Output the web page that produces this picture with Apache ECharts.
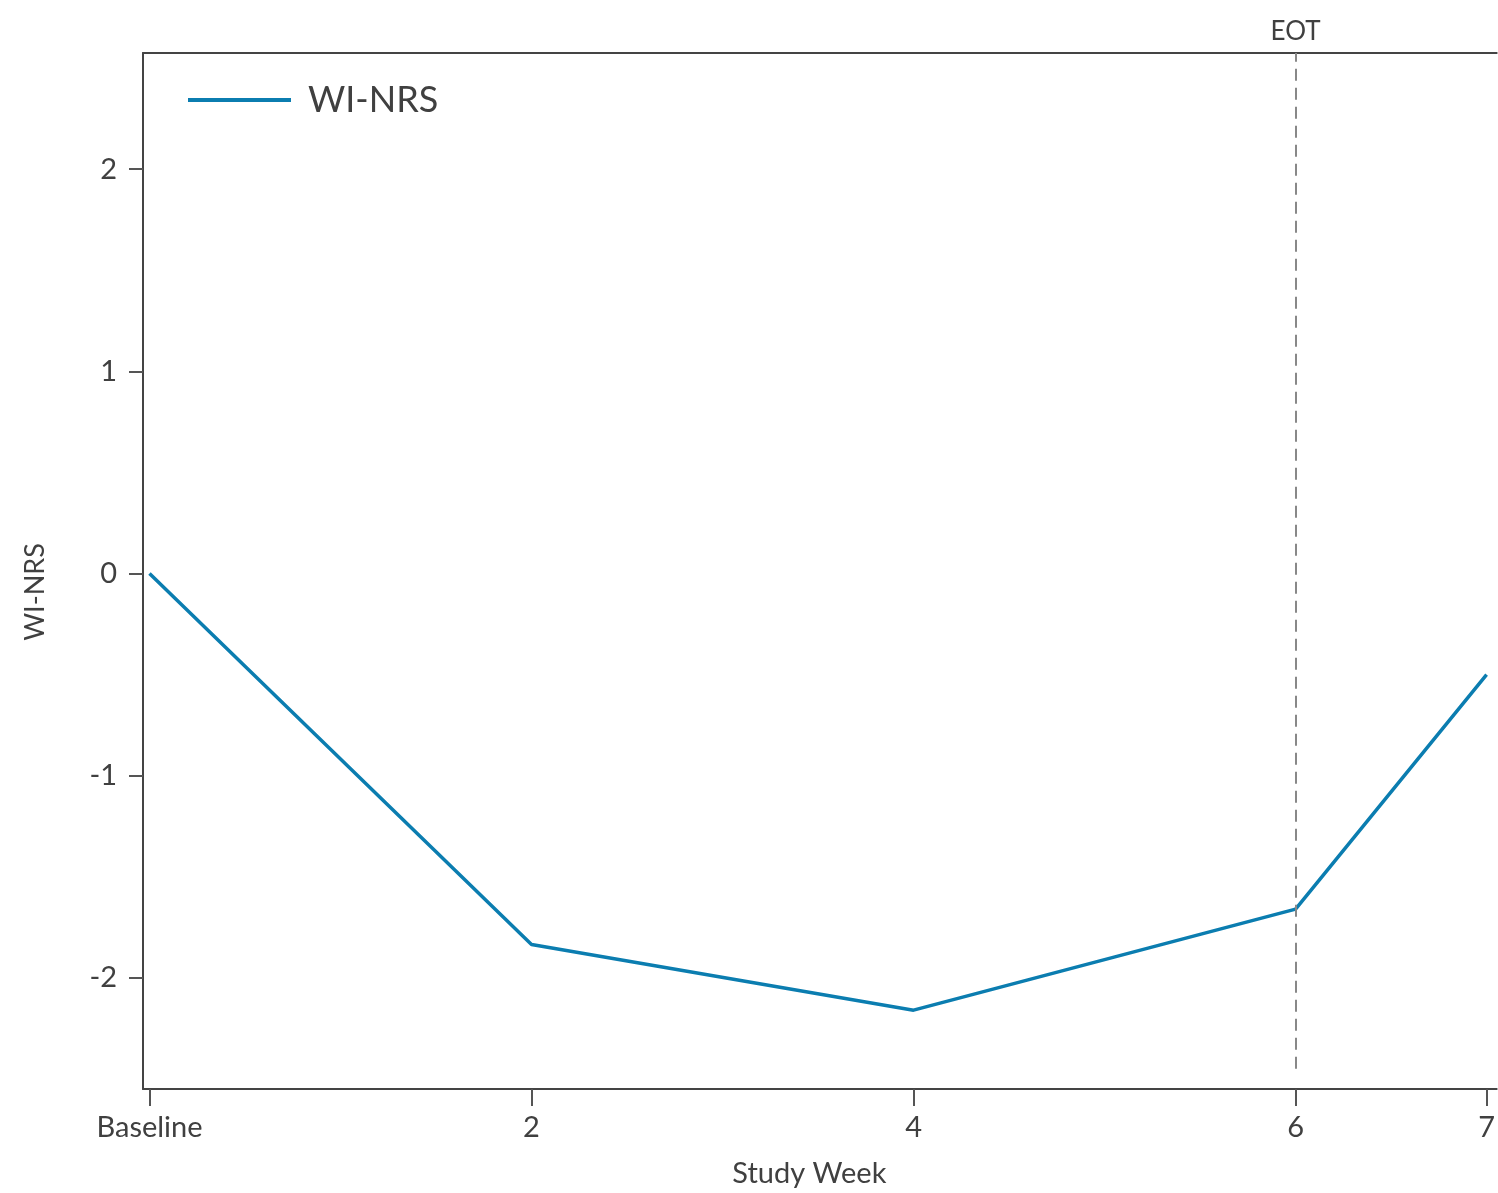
<!DOCTYPE html>
<html>
<head>
<meta charset="utf-8">
<script src="https://cdn.jsdelivr.net/npm/echarts@6/dist/echarts.min.js"></script>
<style>
html,body{margin:0;padding:0;background:#fff;}
#chart{width:1498px;height:1193px;}
</style>
</head>
<body>
<div id="chart"></div>
<script>
const weeks = [0, 2, 4, 6, 7];
const wiNrs = [0, -1.835, -2.16, -1.66, -0.5];
const xTicks = [0, 2, 4, 6, 7];
const yTicks = [-2, -1, 0, 1, 2];
const seriesName = 'WI-NRS';
const eotWeek = 6;

const font = 'Lato, "Open Sans", sans-serif';
const txt = '#404040';
const axisCol = '#444444';
const lineCol = '#0b7db0';

const chart = echarts.init(document.getElementById('chart'));
chart.setOption({
  animation: false,
  backgroundColor: '#ffffff',
  grid: { left: 143, right: 0, top: 53, bottom: 103 },
  legend: {
    show: true,
    left: 188, top: 82, padding: 0,
    itemWidth: 103, itemHeight: 4,
    data: [{ name: seriesName, icon: 'rect', itemStyle: { color: lineCol } }],
    textStyle: { fontFamily: font, fontSize: 36, color: txt, padding: [0, 0, 0, 12] }
  },
  xAxis: [{
    type: 'value',
    min: -0.034, max: 7.053,
    position: 'bottom',
    splitLine: { show: false },
    axisLine: { show: true, onZero: false, lineStyle: { color: axisCol, width: 2 } },
    axisTick: { show: true, length: 17, customValues: xTicks, lineStyle: { color: '#555', width: 2 } },
    axisLabel: {
      customValues: xTicks, margin: 24,
      fontFamily: font, fontSize: 29, color: txt,
      formatter: v => v === 0 ? 'Baseline' : String(v)
    },
    name: 'Study Week', nameLocation: 'middle', nameGap: 70,
    nameTextStyle: { fontFamily: font, fontSize: 29, color: txt, padding: [0, 21, 0, 0] }
  }, {
    type: 'value',
    min: -0.034, max: 7.053,
    position: 'top',
    splitLine: { show: false },
    axisLine: { show: true, onZero: false, lineStyle: { color: axisCol, width: 2 } },
    axisTick: { show: false },
    axisLabel: { show: false }
  }],
  yAxis: {
    type: 'value',
    min: -2.55, max: 2.575,
    splitLine: { show: false },
    axisLine: { show: true, onZero: false, lineStyle: { color: axisCol, width: 2 } },
    axisTick: { show: true, length: 14, customValues: yTicks, lineStyle: { color: '#555', width: 2 } },
    axisLabel: { customValues: yTicks, margin: 26, fontFamily: font, fontSize: 29, color: txt },
    name: 'WI-NRS', nameLocation: 'middle', nameGap: 94,
    nameTextStyle: { fontFamily: font, fontSize: 27, color: txt, padding: [0, 42, 0, 0] }
  },
  series: [{
    name: seriesName,
    type: 'line',
    symbol: 'none',
    data: weeks.map((w, i) => [w, wiNrs[i]]),
    lineStyle: { color: lineCol, width: 3.5 },
    itemStyle: { color: lineCol },
    markLine: {
      silent: true,
      symbol: ['none', 'none'],
      lineStyle: { type: [12, 7], color: '#888888', width: 2 },
      label: { show: true, position: 'end', formatter: 'EOT', fontFamily: font, fontSize: 26, color: txt, distance: 8 },
      data: [[{ coord: [eotWeek, -2.45] }, { coord: [eotWeek, 2.575] }]]
    }
  }]
});
</script>
</body>
</html>
